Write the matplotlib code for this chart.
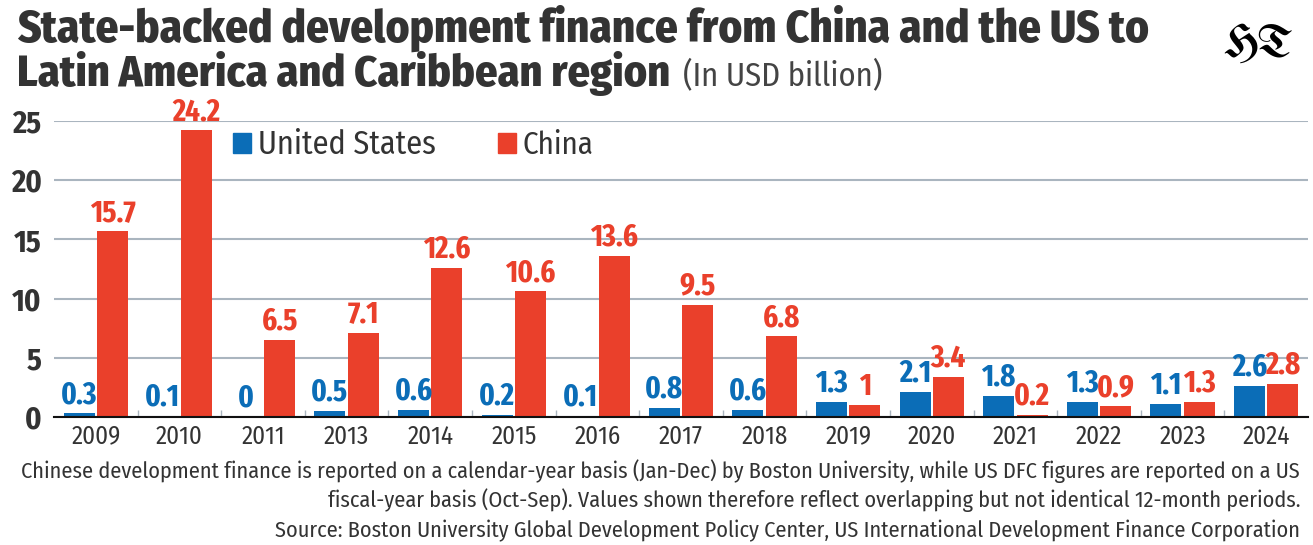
import matplotlib
matplotlib.use("Agg")
import matplotlib.pyplot as plt
from matplotlib.patches import Rectangle
import numpy as np

# data (USD billion)
years = ["2009", "2010", "2011", "2013", "2014", "2015", "2016", "2017",
         "2018", "2019", "2020", "2021", "2022", "2023", "2024"]
us = [0.3, 0.1, 0, 0.5, 0.6, 0.2, 0.1, 0.8, 0.6, 1.3, 2.1, 1.8, 1.3, 1.1, 2.6]
china = [15.7, 24.2, 6.5, 7.1, 12.6, 10.6, 13.6, 9.5, 6.8, 1, 3.4, 0.2, 0.9, 1.3, 2.8]
yticks = [0, 5, 10, 15, 20, 25]

BLUE = "#0b6db7"
RED = "#ea402b"
DARK = "#333333"
GRID = "#aab5bf"

plt.rcParams['font.family'] = ['Fira Sans Condensed', 'Roboto Condensed',
                               'IBM Plex Sans Condensed', 'DejaVu Sans']
NARROW = ['Fira Sans Extra Condensed', 'Fira Sans Condensed', 'DejaVu Sans']

W, H = 1313, 545
fig = plt.figure(figsize=(W / 100, H / 100), dpi=100)

def fx(x):
    return x / W

def fy(y):
    return 1 - y / H

def fit(t, width):
    # scale font size so the text spans the wanted pixel width
    fig.canvas.draw()
    w0 = t.get_window_extent().width
    t.set_fontsize(t.get_fontsize() * width / w0)

# axes box in pixels: left 54, right 1308, top 121 (=25), bottom 417 (=0)
ax = fig.add_axes([fx(54), fy(417), fx(1308 - 54), (417 - 121) / H])
x = np.arange(len(years))
w = 0.37
ax.bar(x - 0.2, us, width=w, color=BLUE, zorder=3)
ax.bar(x + 0.2, china, width=w, color=RED, zorder=3)

for i in range(len(years)):
    ax.text(x[i] - 0.2, us[i] + 0.3, f"{us[i]:g}", ha='center', va='bottom', family=NARROW,
            color=BLUE, fontsize=22.5, fontweight='bold', zorder=4)
    ax.text(x[i] + 0.2, china[i] + 0.3, f"{china[i]:g}", ha='center', va='bottom', family=NARROW,
            color=RED, fontsize=22.5, fontweight='bold', zorder=4)

ax.set_xlim(-0.5, len(years) - 0.5)
ax.set_ylim(0, 25)
ax.set_yticks(yticks)
ax.set_yticklabels([str(t) for t in yticks], fontsize=22, fontweight='bold', color=DARK)
ax.set_xticks(x)
ax.set_xticklabels(years, fontsize=18, color=DARK)
ax.set_xticks(np.arange(len(years) - 1) + 0.5, minor=True)
ax.tick_params(axis='x', which='major', length=0, pad=5)
ax.tick_params(axis='x', which='minor', length=5, direction='in', color=GRID, width=1)
ax.tick_params(axis='y', length=0, pad=9)
ax.grid(axis='y', color=GRID, linewidth=1.5, zorder=0)
for s in ['left', 'right', 'top']:
    ax.spines[s].set_visible(False)
ax.spines['bottom'].set_color('#111111')
ax.spines['bottom'].set_linewidth(1.5)
ax.spines['bottom'].set_zorder(5)

# legend
fig.add_artist(Rectangle((fx(233), fy(153)), fx(18), 20 / H, color=BLUE, transform=fig.transFigure))
lg1 = fig.text(fx(258), fy(154), "United States", fontsize=25, color=DARK, va='baseline')
fig.add_artist(Rectangle((fx(498), fy(153)), fx(18), 20 / H, color=RED, transform=fig.transFigure))
lg2 = fig.text(fx(522), fy(154), "China", fontsize=25, color=DARK, va='baseline')
fit(lg1, 179)
fit(lg2, 71)

# title
t1 = fig.text(fx(17), fy(42), "State-backed development finance from China and the US to",
              fontsize=29, fontweight='heavy', color=DARK, va='baseline')
t2 = fig.text(fx(17), fy(86), "Latin America and Caribbean region",
              fontsize=29, fontweight='heavy', color=DARK, va='baseline')
fit(t1, 1133)
fit(t2, 653)
t3 = fig.text(fx(683), fy(86), "(In USD billion)", fontsize=21, color="#444444", va='baseline')
fit(t3, 200)

# logo
fig.text(fx(1258), fy(57), "HT", fontsize=34, color='black', ha='center', va='baseline',
         family=['UnifrakturMaguntia', 'UnifrakturCook', 'DejaVu Serif'])

# footnote
notes = ["Chinese development finance is reported on a calendar-year basis (Jan-Dec) by Boston University, while US DFC figures are reported on a US",
         "fiscal-year basis (Oct-Sep). Values shown therefore reflect overlapping but not identical 12-month periods.",
         "Source: Boston University Global Development Policy Center, US International Development Finance Corporation"]
fn = []
for k, line in enumerate(notes):
    fn.append(fig.text(fx(1300), fy(478 + 29.5 * k), line, fontsize=16, color=DARK,
                       ha='right', va='baseline'))
fit(fn[0], 1280)
for t in fn[1:]:
    t.set_fontsize(fn[0].get_fontsize())

fig.savefig("out.png", dpi=100)
